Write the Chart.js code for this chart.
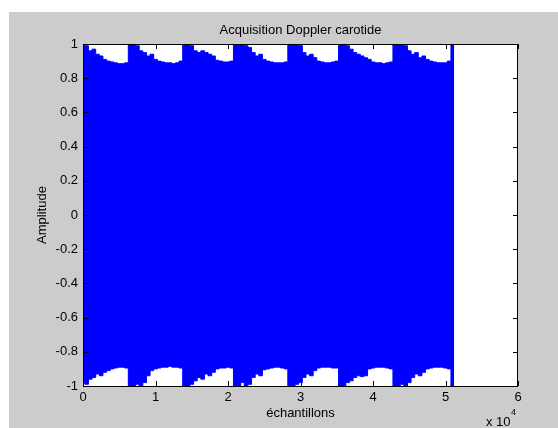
<!DOCTYPE html>
<html>
<head>
<meta charset="utf-8">
<script src="https://cdn.jsdelivr.net/npm/chart.js@4/dist/chart.umd.min.js"></script>
<style>
  html, body { margin: 0; padding: 0; background: #fff; }
  canvas { display: block; }
</style>
</head>
<body>
<canvas id="doppler" width="558" height="428"></canvas>
<script>
// sample positions (every 500 samples, last one at the end of the record)
const samples = [
    0, 500, 1000, 1500, 2000, 2500, 3000, 3500, 4000, 4500,
    5000, 5500, 6000, 6500, 7000, 7500, 8000, 8500, 9000, 9500,
    10000, 10500, 11000, 11500, 12000, 12500, 13000, 13500, 14000, 14500,
    15000, 15500, 16000, 16500, 17000, 17500, 18000, 18500, 19000, 19500,
    20000, 20500, 21000, 21500, 22000, 22500, 23000, 23500, 24000, 24500,
    25000, 25500, 26000, 26500, 27000, 27500, 28000, 28500, 29000, 29500,
    30000, 30500, 31000, 31500, 32000, 32500, 33000, 33500, 34000, 34500,
    35000, 35500, 36000, 36500, 37000, 37500, 38000, 38500, 39000, 39500,
    40000, 40500, 41000, 41500, 42000, 42500, 43000, 43500, 44000, 44500,
    45000, 45500, 46000, 46500, 47000, 47500, 48000, 48500, 49000, 49500,
    50000, 50500, 51000, 51200
];

// upper envelope of the signal
const upperEnv = [
    1.0, 0.99, 0.96, 0.97, 0.94, 0.93, 0.91, 0.90, 0.895, 0.89, 0.885, 0.885, 0.89,
    1.0, 1.0, 0.99, 0.96, 0.95, 0.93, 0.94, 0.91, 0.90, 0.895, 0.89, 0.89, 0.885, 0.89, 0.90,
    1.0, 1.0, 0.99, 0.96, 0.95, 0.96, 0.95, 0.94, 0.93, 0.905, 0.90, 0.895, 0.895, 0.90,
    1.0, 1.0, 1.0, 0.99, 0.98, 0.95, 0.93, 0.94, 0.91, 0.90, 0.895, 0.89, 0.89, 0.89, 0.895,
    1.0, 1.0, 1.0, 0.99, 0.95, 0.93, 0.94, 0.92, 0.90, 0.895, 0.89, 0.89, 0.895, 0.90,
    1.0, 1.0, 0.99, 0.97, 0.95, 0.94, 0.93, 0.92, 0.91, 0.895, 0.89, 0.89, 0.885, 0.89, 0.895,
    1.0, 1.0, 1.0, 0.99, 0.96, 0.94, 0.95, 0.92, 0.93, 0.91, 0.90, 0.895, 0.89, 0.89, 0.89, 0.90,
    1.0, 1.0
];

// lower envelope of the signal
const lowerEnv = [
    -0.98, -0.99, -0.96, -0.95, -0.93, -0.94, -0.92, -0.91, -0.90, -0.895, -0.89, -0.89, -0.895,
    -1.0, -1.0, -0.99, -1.0, -0.98, -0.94, -0.91, -0.90, -0.895, -0.89, -0.89, -0.885, -0.89, -0.89, -0.895,
    -1.0, -1.0, -0.99, -0.97, -0.95, -0.96, -0.93, -0.94, -0.92, -0.90, -0.895, -0.895, -0.89, -0.895,
    -1.0, -1.0, -0.98, -1.0, -0.99, -0.95, -0.93, -0.94, -0.905, -0.90, -0.895, -0.89, -0.89, -0.895, -0.90,
    -1.0, -1.0, -0.99, -0.98, -0.95, -0.93, -0.94, -0.91, -0.895, -0.89, -0.89, -0.89, -0.895, -0.895,
    -1.0, -1.0, -0.98, -0.97, -0.95, -0.94, -0.945, -0.94, -0.90, -0.895, -0.89, -0.89, -0.89, -0.895, -0.90,
    -1.0, -1.0, -0.99, -1.0, -0.98, -0.95, -0.93, -0.94, -0.92, -0.90, -0.895, -0.89, -0.89, -0.89, -0.895, -0.90,
    -1.0, -1.0
];

const xTickValues = [0, 10000, 20000, 30000, 40000, 50000, 60000];
const xTickLabels = ['0', '1', '2', '3', '4', '5', '6'];
const yTickValues = [-1, -0.8, -0.6, -0.4, -0.2, 0, 0.2, 0.4, 0.6, 0.8, 1];
const yTickLabels = ['-1', '-0.8', '-0.6', '-0.4', '-0.2', '0', '0.2', '0.4', '0.6', '0.8', '1'];

const FAMILY = '"Liberation Sans", Arial, sans-serif';
const FONT = '13px ' + FAMILY;

// figure background, axes box, inward ticks and texts
const matlabLook = {
    id: 'matlabLook',
    beforeDraw(chart) {
        const c = chart.ctx;
        const a = chart.chartArea;
        c.save();
        c.fillStyle = '#ffffff';
        c.fillRect(0, 0, chart.width, chart.height);
        c.fillStyle = '#cccccc';
        c.fillRect(9, 12, chart.width - 9, chart.height - 12);
        c.fillStyle = '#ffffff';
        c.fillRect(a.left, a.top, a.right - a.left, a.bottom - a.top);
        c.restore();
    },
    afterDraw(chart) {
        const c = chart.ctx;
        const a = chart.chartArea;
        const xs = chart.scales.x;
        const ys = chart.scales.y;
        c.save();
        c.strokeStyle = '#000000';
        c.lineWidth = 1;
        c.beginPath();
        xTickValues.forEach(v => {
            const px = Math.round(xs.getPixelForValue(v)) + 0.5;
            c.moveTo(px, a.bottom); c.lineTo(px, a.bottom - 5);
            c.moveTo(px, a.top); c.lineTo(px, a.top + 5);
        });
        yTickValues.forEach(v => {
            const py = Math.round(ys.getPixelForValue(v)) + 0.5;
            c.moveTo(a.left, py); c.lineTo(a.left + 5, py);
            c.moveTo(a.right, py); c.lineTo(a.right - 5, py);
        });
        c.stroke();
        c.strokeRect(a.left + 0.5, a.top + 0.5, a.right - a.left - 1, a.bottom - a.top);

        c.fillStyle = '#000000';
        c.font = FONT;
        c.textAlign = 'center';
        c.textBaseline = 'middle';
        const cx = (a.left + a.right) / 2;
        c.fillText('Acquisition Doppler carotide', cx, 30);
        c.fillText('échantillons', cx, 413);
        c.save();
        c.translate(42, (a.top + a.bottom) / 2);
        c.rotate(-Math.PI / 2);
        c.fillText('Amplitude', 0, 0);
        c.restore();
        c.textAlign = 'left';
        c.fillText('x 10', 486, 422);
        c.font = '9px ' + FAMILY;
        c.fillText('4', 511, 413);
        c.restore();
    }
};

new Chart(document.getElementById('doppler'), {
    type: 'line',
    data: {
        labels: samples,
        datasets: [
            {
                data: upperEnv,
                borderColor: '#0000ff',
                backgroundColor: '#0000ff',
                borderWidth: 1,
                pointRadius: 0,
                stepped: 'middle',
                fill: '+1'
            },
            {
                data: lowerEnv,
                borderColor: '#0000ff',
                backgroundColor: '#0000ff',
                borderWidth: 1,
                pointRadius: 0,
                stepped: 'middle',
                fill: false
            }
        ]
    },
    options: {
        responsive: false,
        animation: false,
        devicePixelRatio: 1,
        layout: { padding: { left: 13, right: 40, top: 44, bottom: 12 } },
        plugins: {
            legend: { display: false },
            tooltip: { enabled: false }
        },
        scales: {
            x: {
                type: 'linear',
                min: 0,
                max: 60000,
                afterBuildTicks: s => { s.ticks = xTickValues.map(v => ({ value: v })); },
                afterFit: s => { s.height = 30; },
                grid: { display: false, drawTicks: false },
                border: { display: false },
                ticks: {
                    padding: 4,
                    color: '#000000',
                    font: { family: FAMILY, size: 13 },
                    maxRotation: 0,
                    callback: (v, i) => xTickLabels[i]
                }
            },
            y: {
                min: -1,
                max: 1,
                afterBuildTicks: s => { s.ticks = yTickValues.map(v => ({ value: v })); },
                afterFit: s => { s.width = 70; },
                grid: { display: false, drawTicks: false },
                border: { display: false },
                ticks: {
                    padding: 5,
                    color: '#000000',
                    font: { family: FAMILY, size: 13 },
                    callback: (v, i) => yTickLabels[i]
                }
            }
        }
    },
    plugins: [matlabLook]
});
</script>
</body>
</html>
